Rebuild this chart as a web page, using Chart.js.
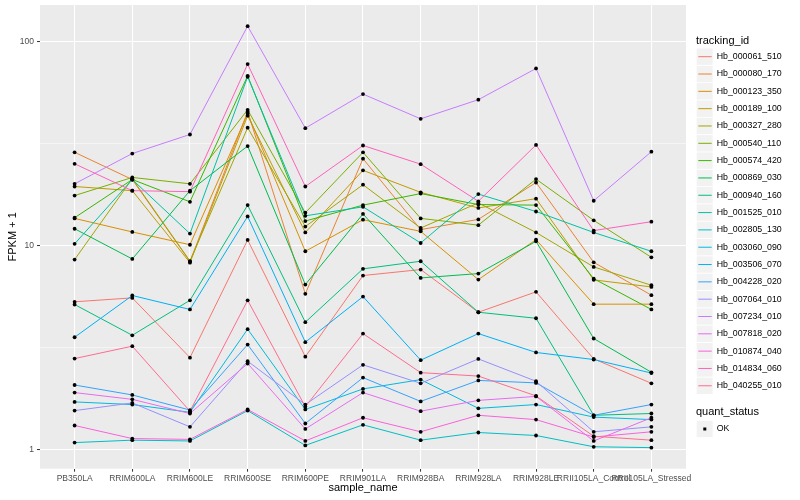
<!DOCTYPE html>
<html>
<head>
<meta charset="utf-8">
<title>FPKM + 1 by sample</title>
<script src="https://cdn.jsdelivr.net/npm/chart.js@4.4.1/dist/chart.umd.min.js"></script>
<style>
  html, body { margin: 0; padding: 0; background: #fff; }
  #wrap { width: 800px; height: 500px; }
</style>
</head>
<body>
<div id="wrap"><canvas id="chart" width="800" height="500"></canvas></div>
<script>
// samples along the x axis
const categories = ['PB350LA', 'RRIM600LA', 'RRIM600LE', 'RRIM600SE', 'RRIM600PE', 'RRIM901LA',
  'RRIM928BA', 'RRIM928LA', 'RRIM928LE', 'RRII105LA_Control', 'RRII105LA_Stressed'];

const trackingIds = ['Hb_000061_510', 'Hb_000080_170', 'Hb_000123_350', 'Hb_000189_100', 'Hb_000327_280',
  'Hb_000540_110', 'Hb_000574_420', 'Hb_000869_030', 'Hb_000940_160', 'Hb_001525_010',
  'Hb_002805_130', 'Hb_003060_090', 'Hb_003506_070', 'Hb_004228_020', 'Hb_007064_010',
  'Hb_007234_010', 'Hb_007818_020', 'Hb_010874_040', 'Hb_014834_060', 'Hb_040255_010'];

// FPKM + 1, one value per sample
const hb_000061_510 = [5.30, 5.54, 2.82, 10.66, 2.85, 7.13, 7.63, 4.71, 5.93, 2.78, 2.11];
const hb_000080_170 = [28.7, 21.1, 8.35, 45.4, 5.80, 26.7, 11.98, 13.45, 20.4, 8.28, 5.71];
const hb_000123_350 = [13.6, 11.67, 10.1, 44.4, 9.38, 13.4, 11.75, 6.81, 10.7, 5.16, 5.16];
const hb_000189_100 = [19.5, 18.6, 8.25, 43.4, 11.6, 23.4, 18.25, 15.3, 17.0, 6.79, 6.27];
const hb_000327_280 = [8.54, 21.3, 8.4, 37.9, 12.4, 19.9, 12.2, 16.2, 11.6, 7.86, 6.39];
const hb_000540_110 = [17.6, 21.6, 20.1, 46.4, 14.5, 28.7, 13.6, 12.6, 21.2, 13.3, 8.76];
const hb_000574_420 = [13.7, 21.1, 16.4, 68.1, 13.2, 15.8, 18.0, 15.9, 15.8, 6.88, 4.86];
const hb_000869_030 = [12.1, 8.6, 18.6, 30.8, 6.44, 14.3, 6.94, 7.29, 10.5, 3.50, 2.39];
const hb_000940_160 = [5.14, 3.63, 5.39, 15.8, 4.21, 7.69, 8.38, 4.71, 4.40, 1.47, 1.50];
const hb_001525_010 = [10.2, 21.1, 11.45, 67.4, 14.0, 15.5, 10.3, 17.9, 14.7, 11.6, 9.38];
const hb_002805_130 = [1.08, 1.11, 1.10, 1.55, 1.046, 1.32, 1.11, 1.21, 1.17, 1.03, 1.02];
const hb_003060_090 = [1.71, 1.66, 1.52, 3.89, 1.57, 1.98, 2.20, 1.59, 1.66, 1.44, 1.40];
const hb_003506_070 = [3.55, 5.69, 4.86, 13.9, 3.36, 5.62, 2.74, 3.70, 2.99, 2.76, 2.37];
const hb_004228_020 = [2.07, 1.85, 1.56, 3.27, 1.34, 2.25, 1.72, 2.18, 2.12, 1.47, 1.66];
const hb_007064_010 = [1.55, 1.69, 1.29, 2.71, 1.66, 2.60, 2.11, 2.78, 2.16, 1.22, 1.29];
const hb_007234_010 = [20.1, 28.3, 35.1, 119.4, 37.7, 55.4, 41.9, 52.0, 74.0, 16.6, 28.9];
const hb_007818_020 = [1.90, 1.76, 1.50, 2.64, 1.26, 1.90, 1.54, 1.74, 1.82, 1.10, 1.43];
const hb_010874_040 = [1.31, 1.13, 1.12, 1.57, 1.10, 1.43, 1.22, 1.47, 1.40, 1.15, 1.22];
const hb_014834_060 = [25.2, 18.6, 18.4, 77.8, 19.5, 31.0, 25.1, 16.5, 31.2, 11.85, 13.1];
const hb_040255_010 = [2.79, 3.21, 1.54, 5.39, 1.62, 3.70, 2.38, 2.29, 1.83, 1.16, 1.11];

const seriesValues = [hb_000061_510, hb_000080_170, hb_000123_350, hb_000189_100, hb_000327_280,
  hb_000540_110, hb_000574_420, hb_000869_030, hb_000940_160, hb_001525_010,
  hb_002805_130, hb_003060_090, hb_003506_070, hb_004228_020, hb_007064_010,
  hb_007234_010, hb_007818_020, hb_010874_040, hb_014834_060, hb_040255_010];

const yTickLabels = [1, 10, 100];

// ggplot hue palette, 20 levels
const lineColors = ['#F8766D', '#EA8331', '#D89000', '#C09B00', '#A3A500', '#7CAE00', '#39B600',
  '#00BB4E', '#00BF7D', '#00C1A3', '#00BFC4', '#00BAE0', '#00B0F6', '#35A2FF', '#9590FF',
  '#C77CFF', '#E76BF3', '#FA62DB', '#FF62BC', '#FF6C91'];

const FONT = '"Liberation Sans", Arial, Helvetica, sans-serif';

// minor breaks halfway between the labelled ones (log space)
const yBreaks = [];
yTickLabels.forEach((v, i) => {
  yBreaks.push(v);
  if (i < yTickLabels.length - 1) yBreaks.push(Math.sqrt(v * yTickLabels[i + 1]));
});
const isMajor = v => yTickLabels.some(t => Math.abs(t - v) < 1e-6);

const datasets = trackingIds.map((id, i) => ({
  label: id,
  data: seriesValues[i].map((v, j) => ({ x: j, y: v })),
  borderColor: lineColors[i],
  backgroundColor: lineColors[i],
  borderWidth: 1,
  pointRadius: 0,
  tension: 0,
  order: trackingIds.length - i
}));

// grey panel behind the data
const panelBg = {
  id: 'panelBg',
  beforeDraw(chart) {
    const a = chart.chartArea;
    const ctx = chart.ctx;
    ctx.save();
    ctx.fillStyle = '#EBEBEB';
    ctx.fillRect(a.left, a.top, a.right - a.left, a.bottom - a.top);
    ctx.restore();
  }
};

// black points drawn over all the lines, like geom_point after geom_line
const dots = {
  id: 'dots',
  afterDatasetsDraw(chart) {
    const ctx = chart.ctx;
    ctx.save();
    ctx.fillStyle = '#000';
    chart.data.datasets.forEach((ds, i) => {
      chart.getDatasetMeta(i).data.forEach(pt => {
        ctx.beginPath();
        ctx.arc(pt.x, pt.y, 1.9, 0, Math.PI * 2);
        ctx.fill();
      });
    });
    ctx.restore();
  }
};

// legend in ggplot style on the right
const ggLegend = {
  id: 'ggLegend',
  afterDraw(chart) {
    const ctx = chart.ctx;
    const x0 = 696;
    ctx.save();
    ctx.textBaseline = 'middle';
    ctx.textAlign = 'left';
    ctx.fillStyle = '#000';
    ctx.font = '11px ' + FONT;
    ctx.fillText('tracking_id', x0, 41);
    chart.data.datasets.forEach((ds, i) => {
      const cy = 56.7 + i * 17.32;
      ctx.fillStyle = '#F2F2F2';
      ctx.fillRect(x0 + 0.7, cy - 8.2, 16, 16.4);
      ctx.strokeStyle = ds.borderColor;
      ctx.lineWidth = 1;
      ctx.beginPath();
      ctx.moveTo(x0 + 2.3, cy);
      ctx.lineTo(x0 + 15.7, cy);
      ctx.stroke();
      ctx.fillStyle = '#000';
      ctx.font = '8.8px ' + FONT;
      ctx.fillText(ds.label, x0 + 20.7, cy);
    });
    ctx.font = '11px ' + FONT;
    ctx.fillText('quant_status', x0, 412.3);
    ctx.fillStyle = '#F2F2F2';
    ctx.fillRect(x0 + 0.7, 429 - 8.2, 16, 16.4);
    ctx.fillStyle = '#000';
    ctx.fillRect(x0 + 7.3, 427.5, 3, 3);
    ctx.font = '8.8px ' + FONT;
    ctx.fillText('OK', x0 + 20.7, 429);
    ctx.restore();
  }
};

new Chart(document.getElementById('chart'), {
  type: 'line',
  data: { datasets: datasets },
  plugins: [panelBg, dots, ggLegend],
  options: {
    responsive: false,
    animation: false,
    devicePixelRatio: 1,
    layout: { padding: { left: 0, top: 5, right: 114, bottom: 0 } },
    plugins: { legend: { display: false }, tooltip: { enabled: false } },
    scales: {
      x: {
        type: 'linear',
        min: -0.6,
        max: categories.length - 0.4,
        afterBuildTicks: scale => { scale.ticks = categories.map((c, i) => ({ value: i })); },
        afterFit: scale => { scale.height = 31.3; scale.paddingLeft = 0; scale.paddingRight = 0; },
        border: { display: false },
        grid: { color: '#FFFFFF', lineWidth: 1.07, tickColor: '#333333', tickLength: 3, tickWidth: 1 },
        ticks: {
          autoSkip: false, maxRotation: 0, minRotation: 0, padding: 2,
          color: '#4D4D4D', font: { family: FONT, size: 8.5 },
          callback: v => categories[v]
        },
        title: { display: true, text: 'sample_name', color: '#000', font: { family: FONT, size: 11 }, padding: { top: 0, bottom: 5 } }
      },
      y: {
        type: 'logarithmic',
        min: 0.804,
        max: 151.6,
        afterBuildTicks: scale => { scale.ticks = yBreaks.map(v => ({ value: v })); },
        afterFit: scale => { scale.width = 40; scale.paddingTop = 0; scale.paddingBottom = 0; },
        border: { display: false },
        grid: {
          color: '#FFFFFF',
          lineWidth: c => (c.tick && isMajor(c.tick.value)) ? 1.07 : 0.53,
          tickColor: c => (c.tick && isMajor(c.tick.value)) ? '#333333' : 'rgba(0,0,0,0)',
          tickLength: 3, tickWidth: 1
        },
        ticks: {
          padding: 3, color: '#4D4D4D', font: { family: FONT, size: 8.5 },
          callback: v => isMajor(v) ? String(Math.round(v)) : ''
        },
        title: { display: true, text: 'FPKM + 1', color: '#000', font: { family: FONT, size: 11 }, padding: { top: 6, bottom: 0 } }
      }
    }
  }
});
</script>
</body>
</html>
